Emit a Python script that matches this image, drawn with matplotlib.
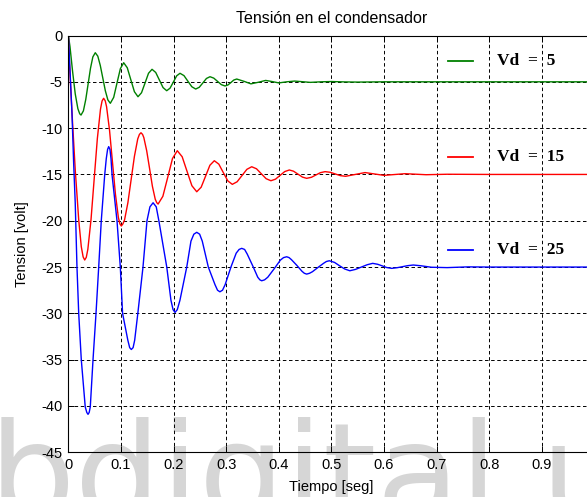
import matplotlib
matplotlib.use("Agg")
import matplotlib.pyplot as plt

# ---- data ----
t_vd5 = [0, 0.003, 0.008, 0.013, 0.018, 0.0215, 0.024,
         0.0285, 0.033, 0.0375, 0.042, 0.0465, 0.0511,
         0.0559, 0.0606, 0.0654, 0.0702, 0.075, 0.0797,
         0.0861, 0.0924, 0.0988, 0.1051,
         0.1119, 0.1187, 0.1255, 0.1323,
         0.139, 0.1457, 0.1523, 0.159,
         0.166, 0.173, 0.1799, 0.1869,
         0.1932, 0.1996, 0.2059, 0.2122,
         0.2197, 0.2271, 0.2346, 0.242,
         0.2488, 0.2556, 0.2624, 0.2692,
         0.2763, 0.2835, 0.2906, 0.2977,
         0.3033, 0.3089, 0.3144, 0.32,
         0.334, 0.347, 0.361, 0.375, 0.388, 0.40, 0.415, 0.43, 0.445,
         0.46, 0.48, 0.5, 0.525, 0.55, 0.6, 0.7, 0.8, 1.0]
v_vd5 = [0, -1.2, -3.9, -6.3, -7.9, -8.45, -8.59,
         -8.14, -6.91, -5.23, -3.54, -2.31, -1.86,
         -2.23, -3.23, -4.59, -5.96, -6.95, -7.32,
         -6.68, -5.13, -3.58, -2.94,
         -3.48, -4.78, -6.07, -6.61,
         -6.18, -5.13, -4.08, -3.65,
         -3.99, -4.81, -5.62, -5.96,
         -5.69, -5.02, -4.35, -4.08,
         -4.33, -4.93, -5.53, -5.78,
         -5.59, -5.12, -4.64, -4.45,
         -4.60, -4.95, -5.30, -5.45,
         -5.34, -5.08, -4.81, -4.70,
         -4.95, -5.22, -5.05, -4.85, -4.98, -5.12, -5.0, -4.92, -4.99,
         -5.06, -5.0, -4.97, -5.01, -5.03, -5.0, -5.0, -5.0, -5.0]

t_vd15 = [0, 0.0017, 0.007, 0.013, 0.0196, 0.0245, 0.028, 0.031,
          0.034, 0.037, 0.043, 0.049, 0.055, 0.061, 0.064, 0.067,
          0.070, 0.0726, 0.0782, 0.0838, 0.0894, 0.095, 0.098, 0.1006,
          0.1035, 0.1068, 0.1131, 0.1193, 0.1255, 0.1318, 0.135, 0.138,
          0.141, 0.1434, 0.1488, 0.1543, 0.1597, 0.1651, 0.168, 0.1705,
          0.1796, 0.1888, 0.1979, 0.207,
          0.2163, 0.2255, 0.2348, 0.244,
          0.2524, 0.2607, 0.269, 0.2774,
          0.286, 0.2945, 0.3031, 0.3116,
          0.3208, 0.33, 0.3393, 0.3485,
          0.3576, 0.3668, 0.3759, 0.385,
          0.3938, 0.4025, 0.4113, 0.420,
          0.428, 0.4365, 0.445, 0.453,
          0.462, 0.4705, 0.479, 0.488,
          0.498, 0.5075, 0.517, 0.527,
          0.5455, 0.564, 0.60, 0.64, 0.68, 0.72, 0.8, 1.0]
v_vd15 = [0, -2.6, -8.5, -14.5, -19.9, -22.8, -23.9, -24.24,
          -23.95, -23.07, -19.87, -15.5, -11.15, -7.95, -7.07, -6.78,
          -7.05, -7.70, -10.23, -13.68, -17.12, -19.65, -20.35, -20.57,
          -20.35, -19.90, -18.05, -15.54, -13.05, -11.17, -10.68, -10.5,
          -10.68, -11.02, -12.43, -14.35, -16.28, -17.68, -18.05, -18.2,
          -17.36, -15.32, -13.28, -12.44,
          -13.09, -14.66, -16.22, -16.87,
          -16.38, -15.2, -14.01, -13.52,
          -13.89, -14.8, -15.7, -16.07,
          -15.79, -15.12, -14.45, -14.17,
          -14.39, -14.93, -15.46, -15.68,
          -15.51, -15.1, -14.69, -14.52,
          -14.65, -14.97, -15.29, -15.42,
          -15.31, -15.06, -14.81, -14.7,
          -14.77, -14.95, -15.13, -15.2,
          -15.0, -14.8, -15.1, -14.92, -15.03, -14.98, -15.0, -15.0]

t_vd25 = [0, 0.002, 0.0068, 0.010, 0.013, 0.0163, 0.0196, 0.0245, 0.032,
          0.035, 0.0373, 0.0395, 0.0416, 0.0468, 0.0525, 0.0576, 0.0625,
          0.069, 0.072, 0.0745, 0.0766, 0.079, 0.081, 0.083, 0.0924, 0.0987,
          0.103, 0.113, 0.1165, 0.1196, 0.123, 0.126, 0.132, 0.1418, 0.1494,
          0.155, 0.161, 0.167, 0.172, 0.187, 0.195, 0.199,
          0.2027, 0.207, 0.212, 0.225, 0.233, 0.2385,
          0.244, 0.2495, 0.2545, 0.266, 0.2787, 0.2835,
          0.288, 0.293, 0.298, 0.309, 0.319, 0.3245,
          0.3295, 0.335, 0.340, 0.3515, 0.360, 0.364,
          0.3675, 0.373, 0.379, 0.391, 0.403, 0.409,
          0.415, 0.4195, 0.424, 0.434, 0.444, 0.4485,
          0.453, 0.4585, 0.464, 0.4745, 0.485, 0.4905,
          0.496, 0.506, 0.5155, 0.525,
          0.535, 0.546, 0.557, 0.568,
          0.5785, 0.588, 0.5965, 0.605,
          0.6146, 0.625, 0.635, 0.645,
          0.6557, 0.67, 0.69, 0.72, 0.76, 0.80, 1.0]
v_vd25 = [0, -2.5, -8.4, -13.8, -18.1, -25.0, -30.0, -35.0, -40.1,
          -40.7, -40.9, -40.7, -40.1, -35.0, -30.0, -25.0, -20.0,
          -15.06, -13.3, -12.3, -12.0, -12.3, -13.3, -15.06, -20.0, -25.0,
          -30.0, -32.9, -33.7, -33.9, -33.7, -32.9, -30.0, -25.0, -20.0,
          -18.5, -18.06, -18.5, -20.0, -25.0, -28.6, -29.6,
          -29.9, -29.6, -28.6, -25.0, -22.2, -21.45,
          -21.25, -21.45, -22.2, -25.0, -26.9, -27.5,
          -27.67, -27.5, -26.9, -25.0, -23.5, -23.1,
          -22.98, -23.1, -23.6, -25.0, -26.1, -26.38,
          -26.48, -26.38, -26.1, -25.2, -24.25, -23.98,
          -23.89, -23.98, -24.2, -24.8, -25.45, -25.67,
          -25.76, -25.67, -25.5, -25.04, -24.6, -24.4,
          -24.32, -24.5, -24.86, -25.2,
          -25.4, -25.25, -25.0, -24.75,
          -24.6, -24.7, -24.87, -25.05,
          -25.14, -25.07, -24.96, -24.85,
          -24.78, -24.86, -25.02, -25.06, -24.98, -25.0, -25.0]

labels = ["Vd  =  5", "Vd  =  15", "Vd  =  25"]
colors = ["#008000", "#ff0000", "#0000ff"]
x_ticks = [0, 0.1, 0.2, 0.3, 0.4, 0.5, 0.6, 0.7, 0.8, 0.9, 1.0]
y_ticks = [0, -5, -10, -15, -20, -25, -30, -35, -40, -45]

# label annotation anchors (data units)
label_y = [-2.8, -13.1, -23.2]

plt.rcParams['font.family'] = ['Liberation Sans', 'DejaVu Sans']

fig = plt.figure(figsize=(5.87, 4.97), dpi=100)
fig.patch.set_facecolor('white')

# watermark behind the axes content
fig.text(-0.02, -0.046, "bdigital.unal", fontsize=98, color='#d6d6d6',
         family='DejaVu Sans', zorder=-1, ha='left', va='baseline')

ax = fig.add_axes([68.4 / 587, 1 - 452.3 / 497, 526 / 587, (452.3 - 35.5) / 497])
ax.set_facecolor('none')

for t, v, c in zip([t_vd5, t_vd15, t_vd25], [v_vd5, v_vd15, v_vd25], colors):
    ax.plot(t, v, color=c, lw=1.0)

for lab, c, yy in zip(labels, colors, label_y):
    ax.plot([0.722, 0.770], [yy, yy], color=c, lw=1.3)
    ax.text(0.815, yy, lab, color='black', fontsize=12.5, fontweight='bold',
            family='Liberation Serif', va='center', ha='left')

ax.set_xlim(0, 1)
ax.set_ylim(-45, 0)
ax.set_xticks(x_ticks)
ax.set_yticks(y_ticks)
ax.set_xticklabels([f"{x:g}" for x in x_ticks])
ax.set_yticklabels([f"{y:g}" for y in y_ticks])
ax.grid(True, color='black', linestyle=(0, (3.6, 2.7)), lw=0.7)
ax.tick_params(direction='in', length=4, width=0.7, labelsize=10.5, pad=4,
               top=True, right=True)
for s in ax.spines.values():
    s.set_linewidth(0.8)

ax.set_title("Tensión en el condensador", fontsize=11.5, pad=9)
ax.set_xlabel("Tiempo [seg]", fontsize=10.5, labelpad=6)
ax.set_ylabel("Tension [volt]", fontsize=10.5, labelpad=9)

fig.savefig("out.png", dpi=100, facecolor='white')
